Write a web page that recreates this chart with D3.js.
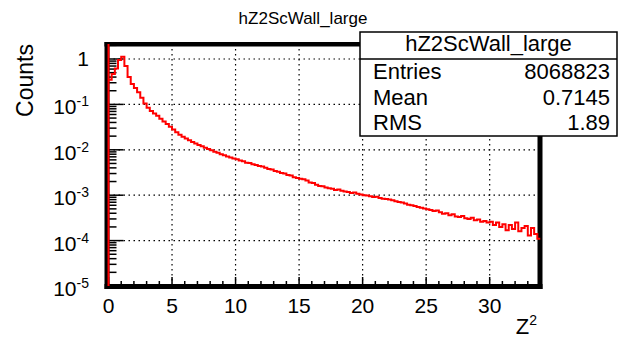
<!DOCTYPE html>
<html lang="en">
  <head>
    <meta charset="UTF-8">
    <title>hZ2ScWall_large</title>
    <style>
      body { margin: 0; background: #fff; }
      svg text { font-family: "Liberation Sans", Arial, Helvetica, sans-serif; fill: #000; }
      .grid line { stroke: #000; stroke-width: 1.2; stroke-dasharray: 1.5 3.5; }
      .tick-mark { stroke: #000; stroke-width: 1.5; }
    </style>
    <script src="https://d3js.org/d3.v7.min.js"></script>
  </head>
  <body>
    <script>
      // histogram: 136 bins of width 0.25 starting at 0
      const histName = "hZ2ScWall_large";
      const binLow = 0;
      const binWidth = 0.25;
      const counts = [
        0.35, 0.47, 0.62, 0.95, 1.12, 0.70, 0.40, 0.28, 0.23, 0.185,
        0.14, 0.105, 0.084, 0.072, 0.063, 0.056, 0.048, 0.042, 0.037, 0.032,
        0.028, 0.0245, 0.0215, 0.0195, 0.0178, 0.0163, 0.0149, 0.0137, 0.0128, 0.0119,
        0.0111, 0.0104, 0.0098, 0.0091, 0.0086, 0.0080, 0.0076, 0.0071, 0.0068, 0.0064,
        0.0062, 0.0058, 0.0056, 0.0052, 0.0051, 0.0048, 0.0046, 0.0044, 0.0043, 0.0040,
        0.0038, 0.0037, 0.0034, 0.0033, 0.0031, 0.0030, 0.0028, 0.0027, 0.0025, 0.0024,
        0.0023, 0.00225, 0.0021, 0.0019, 0.00185, 0.0017, 0.0016, 0.00158, 0.00148, 0.00142,
        0.00138, 0.00130, 0.00133, 0.00125, 0.00120, 0.00118, 0.00112, 0.00115, 0.00108, 0.00104,
        0.00100, 0.00098, 0.00095, 0.00091, 0.00093, 0.00087, 0.00084, 0.00082, 0.00080, 0.00077,
        0.00074, 0.00071, 0.00069, 0.00066, 0.00062, 0.00060, 0.00058, 0.00055, 0.00053, 0.00051,
        0.00049, 0.00047, 0.00045, 0.00046, 0.00042, 0.00039, 0.00040, 0.00036, 0.00038, 0.00034,
        0.00033, 0.00035, 0.00031, 0.00030, 0.00032, 0.00028, 0.00029, 0.00026, 0.00027, 0.00025,
        0.00026, 0.00022, 0.00025, 0.00020, 0.00023, 0.00017, 0.00022, 0.00018, 0.00025, 0.00016,
        0.00019, 0.00021, 0.00013, 0.00019, 0.00014, 0.00011
      ];
      const xMajorTicks = [0, 5, 10, 15, 20, 25, 30];
      const yMajorTicks = [1e-5, 1e-4, 1e-3, 1e-2, 1e-1, 1];
      const yTickExponents = ["-5", "-4", "-3", "-2", "-1", null];
      const statsLabels = ["Entries", "Mean", "RMS"];
      const statsValues = ["8068823", "0.7145", "1.89"];

      const W = 620, H = 339;
      const frame = { left: 108.5, right: 540.5, top: 44, bottom: 286 };
      const xMax = 34, yMin = 1e-5, yMax = 2.14;
      const fw = 5; // frame thickness

      const svg = d3.select("body").append("svg")
        .attr("width", W).attr("height", H);

      const x = d3.scaleLinear().domain([0, xMax]).range([frame.left, frame.right]);
      const y = d3.scaleLog().domain([yMin, yMax]).range([frame.bottom, frame.top]);

      // grid
      const grid = svg.append("g").attr("class", "grid");
      grid.selectAll(".gx").data(xMajorTicks.filter(d => d > 0))
        .enter().append("line")
        .attr("x1", d => x(d)).attr("x2", d => x(d))
        .attr("y1", frame.top).attr("y2", frame.bottom);
      grid.selectAll(".gy").data(yMajorTicks.filter(d => d > yMin))
        .enter().append("line")
        .attr("x1", frame.left).attr("x2", frame.right)
        .attr("y1", d => y(d)).attr("y2", d => y(d));

      svg.append("clipPath").attr("id", "clip")
        .append("rect")
        .attr("x", frame.left - 2).attr("y", frame.top)
        .attr("width", frame.right - frame.left + 2).attr("height", frame.bottom - frame.top);

      // the first bin edge runs off the top of the frame
      const pts = [{ x: binLow, y: yMin }, { x: binLow, y: yMax }];
      counts.forEach((c, i) => pts.push({ x: binLow + i * binWidth, y: c }));
      pts.push({ x: binLow + counts.length * binWidth, y: counts[counts.length - 1] });

      const line = d3.line()
        .x(d => x(d.x))
        .y(d => y(d.y))
        .curve(d3.curveStepAfter);

      // ticks
      const ticks = svg.append("g");
      d3.range(0, xMax + 1).forEach(v => {
        const major = v % 5 === 0;
        ticks.append("line").attr("class", "tick-mark")
          .attr("x1", x(v)).attr("x2", x(v))
          .attr("y1", frame.bottom).attr("y2", frame.bottom - (major ? 9 : 5));
      });
      const yMinor = [];
      yMajorTicks.forEach(d => {
        for (let m = 2; m <= 9; m++) if (m * d <= yMax) yMinor.push(m * d);
      });
      yMajorTicks.forEach(d => ticks.append("line").attr("class", "tick-mark")
        .attr("x1", frame.left).attr("x2", frame.left + 15)
        .attr("y1", y(d)).attr("y2", y(d)));
      yMinor.forEach(d => ticks.append("line").attr("class", "tick-mark")
        .attr("x1", frame.left).attr("x2", frame.left + 8)
        .attr("y1", y(d)).attr("y2", y(d)));

      // thick frame, drawn as four filled bars
      const bars = [
        { x: frame.left - 4, y: frame.top - 2, w: frame.right - frame.left + 6, h: fw - 0.5 },
        { x: frame.left - 4, y: frame.bottom - 2, w: frame.right - frame.left + 6, h: fw },
        { x: frame.left - 4, y: frame.top - 2, w: fw, h: frame.bottom - frame.top + fw },
        { x: frame.right - 3, y: frame.top - 2, w: fw, h: frame.bottom - frame.top + fw }
      ];
      svg.selectAll(".bar").data(bars).enter().append("rect")
        .attr("x", d => d.x).attr("y", d => d.y)
        .attr("width", d => d.w).attr("height", d => d.h)
        .attr("fill", "#000");

      svg.append("path")
        .attr("clip-path", "url(#clip)")
        .attr("fill", "none")
        .attr("stroke", "#ff0000")
        .attr("stroke-width", 2)
        .attr("d", line(pts));

      // x tick labels
      svg.selectAll(".xlab").data(xMajorTicks).enter().append("text")
        .attr("x", d => x(d)).attr("y", 313)
        .attr("text-anchor", "middle")
        .style("font-size", "21px")
        .text(d => d);

      // y tick labels
      yMajorTicks.forEach((d, i) => {
        const exp = yTickExponents[i];
        const t = svg.append("text")
          .attr("x", 89)
          .attr("text-anchor", "end")
          .style("font-size", "21px");
        if (exp === null) {
          t.attr("y", y(d) + 7).text("1");
        } else {
          t.attr("y", y(d) + 10);
          t.append("tspan").text("10");
          t.append("tspan").attr("dy", -8).style("font-size", "14px").text(exp);
        }
      });

      // axis titles
      const zt = svg.append("text")
        .attr("x", 537).attr("y", 334)
        .attr("text-anchor", "end")
        .style("font-size", "22px");
      zt.append("tspan").text("Z");
      zt.append("tspan").attr("dy", -9).style("font-size", "14px").text("2");

      svg.append("text")
        .attr("transform", "translate(33,44) rotate(-90)")
        .attr("text-anchor", "end")
        .style("font-size", "23px")
        .text("Counts");

      svg.append("text")
        .attr("x", 303).attr("y", 24)
        .attr("text-anchor", "middle")
        .style("font-size", "17px")
        .text(histName);

      // stats box
      const box = { left: 360, right: 617, top: 32, sep: 59, bottom: 136 };
      const stats = svg.append("g");
      stats.append("rect")
        .attr("x", box.left).attr("y", box.top)
        .attr("width", box.right - box.left).attr("height", box.bottom - box.top)
        .attr("fill", "#fff").attr("stroke", "#000").attr("stroke-width", 1.5);
      stats.append("line")
        .attr("x1", box.left).attr("x2", box.right)
        .attr("y1", box.sep).attr("y2", box.sep)
        .attr("stroke", "#000").attr("stroke-width", 1.5);
      stats.append("text")
        .attr("x", (box.left + box.right) / 2).attr("y", 51)
        .attr("text-anchor", "middle")
        .style("font-size", "22px")
        .text(histName);
      const rowY = [79, 105, 130];
      statsLabels.forEach((lab, i) => {
        stats.append("text").attr("x", box.left + 13).attr("y", rowY[i])
          .style("font-size", "22px").text(lab);
        stats.append("text").attr("x", box.right - 7).attr("y", rowY[i])
          .attr("text-anchor", "end")
          .style("font-size", "22px").text(statsValues[i]);
      });
    </script>
  </body>
</html>
